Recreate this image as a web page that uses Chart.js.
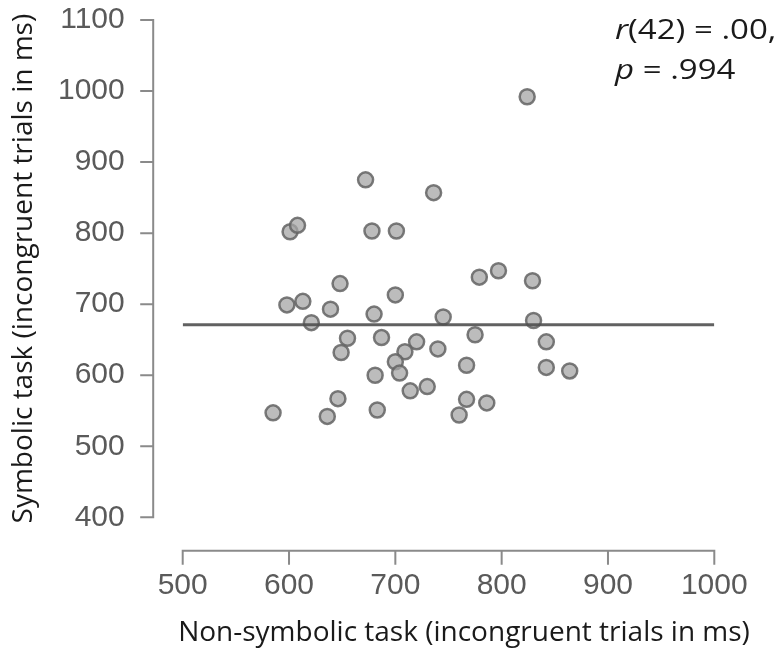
<!DOCTYPE html>
<html><head><meta charset="utf-8">
<script src="https://cdn.jsdelivr.net/npm/chart.js@4"></script>
<style>html,body{margin:0;padding:0;background:#fff}</style>
</head><body>
<canvas id="c" width="784" height="652"></canvas>
<script>
// ---- data ----
const nonSymbolic = [824, 672, 736, 601, 608, 678, 701, 648, 779, 829, 797, 598, 613, 639, 700, 680, 621, 745, 830, 655, 687, 649, 720, 775, 842, 709, 740, 700, 704, 681, 767, 842, 864, 714, 730, 646, 585, 636, 683, 767, 786, 760];
const symbolic    = [992, 875, 857, 802, 811, 803, 803, 729, 738, 733, 747, 699, 704, 693, 713, 686, 674, 682, 677, 652, 653, 632, 647, 657, 647, 633, 637, 619, 603, 600, 614, 611, 606, 578, 584, 567, 547, 542, 551, 566, 561, 544];
const fitX = [500, 1000];
const fitY = [671, 671];
const xTicks = [500, 600, 700, 800, 900, 1000];
const yTicks = [400, 500, 600, 700, 800, 900, 1000, 1100];
const xTitle = 'Non-symbolic task (incongruent trials in ms)';
const yTitle = 'Symbolic task (incongruent trials in ms)';
const statLines = [['r', '(42) = .00,'], ['p', ' = .994']];

const points = nonSymbolic.map((x, i) => ({x: x, y: symbolic[i]}));
const fitLine = fitX.map((x, i) => ({x: x, y: fitY[i]}));

const AXIS_COLOR = '#8a8a8a';
const TITLE_FONT = '"Open Sans", sans-serif';
const TICK_FONT = { family: '"Liberation Sans", Arial, sans-serif', size: 30 };

function noPad(s) { s.paddingTop = 0; s.paddingBottom = 0; s.paddingLeft = 0; s.paddingRight = 0; }

const offsetAxes = {
  id: 'offsetAxes',
  beforeDatasetsDraw(chart) {
    const ctx = chart.ctx;
    const xs = chart.scales.x, ys = chart.scales.y;
    ctx.save();
    ctx.strokeStyle = AXIS_COLOR;
    ctx.lineWidth = 2;
    // y axis (offset to the left of the plot area)
    const yx = xs.left - 29.5;
    ctx.beginPath();
    ctx.moveTo(yx, ys.getPixelForValue(yTicks[0]) + 1);
    ctx.lineTo(yx, ys.getPixelForValue(yTicks[yTicks.length - 1]) - 1);
    yTicks.forEach(v => {
      const p = ys.getPixelForValue(v);
      ctx.moveTo(yx, p);
      ctx.lineTo(yx - 13, p);
    });
    ctx.stroke();
    // x axis (offset below the plot area)
    const xy = ys.bottom + 33.5;
    ctx.beginPath();
    ctx.moveTo(xs.getPixelForValue(xTicks[0]) - 1, xy);
    ctx.lineTo(xs.getPixelForValue(xTicks[xTicks.length - 1]) + 1, xy);
    xTicks.forEach(v => {
      const p = xs.getPixelForValue(v);
      ctx.moveTo(p, xy);
      ctx.lineTo(p, xy + 14);
    });
    ctx.stroke();
    ctx.restore();
  },
  afterDraw(chart) {
    const ctx = chart.ctx;
    ctx.save();
    ctx.fillStyle = '#1a1a1a';
    ctx.textBaseline = 'middle';
    // x axis title
    ctx.textAlign = 'center';
    ctx.font = '28px ' + TITLE_FONT;
    ctx.fillText(xTitle, 464, 633);
    // statistics annotation
    ctx.textAlign = 'left';
    const x0 = 615;
    const ys = [31, 71];
    statLines.forEach((parts, i) => {
      ctx.save();
      ctx.translate(x0, ys[i]);
      ctx.scale(1.18, 1);
      ctx.font = 'italic 28px ' + TITLE_FONT;
      ctx.fillText(parts[0], 0, 0);
      const w = ctx.measureText(parts[0]).width;
      ctx.font = '28px ' + TITLE_FONT;
      ctx.fillText(parts[1], w, 0);
      ctx.restore();
    });
    ctx.restore();
  }
};

new Chart(document.getElementById('c'), {
  type: 'scatter',
  data: {
    datasets: [
      {
        type: 'line',
        data: fitLine,
        borderColor: 'rgba(80,80,80,0.9)',
        borderWidth: 3,
        pointRadius: 0,
        fill: false,
        order: 0
      },
      {
        data: points,
        pointRadius: 7.5,
        pointBorderWidth: 2.5,
        backgroundColor: 'rgba(165,165,165,0.75)',
        borderColor: 'rgba(100,100,100,0.85)',
        order: 1
      }
    ]
  },
  plugins: [offsetAxes],
  options: {
    responsive: false,
    animation: false,
    devicePixelRatio: 1,
    layout: { padding: { top: 20, right: 69.7, left: 0, bottom: 0 } },
    plugins: { legend: { display: false }, tooltip: { enabled: false } },
    scales: {
      x: {
        type: 'linear', min: 500, max: 1000,
        afterBuildTicks: s => { s.ticks = xTicks.map(v => ({value: v})); },
        afterFit: s => { s.height = 134.7; noPad(s); },
        grid: { display: false, drawTicks: false },
        border: { display: false },
        ticks: { padding: 50, color: '#5a5a5a', font: TICK_FONT, callback: v => String(v) }
      },
      y: {
        type: 'linear', min: 400, max: 1100,
        afterBuildTicks: s => { s.ticks = yTicks.map(v => ({value: v})); },
        afterFit: s => { s.width = 182.7; noPad(s); },
        grid: { display: false, drawTicks: false },
        border: { display: false },
        ticks: { padding: 58, color: '#5a5a5a', font: TICK_FONT, callback: v => String(v) },
        title: { display: true, text: yTitle, color: '#1a1a1a', font: { family: TITLE_FONT, size: 28 }, padding: { top: 7, bottom: 7 } }
      }
    }
  }
});
</script>
</body></html>
